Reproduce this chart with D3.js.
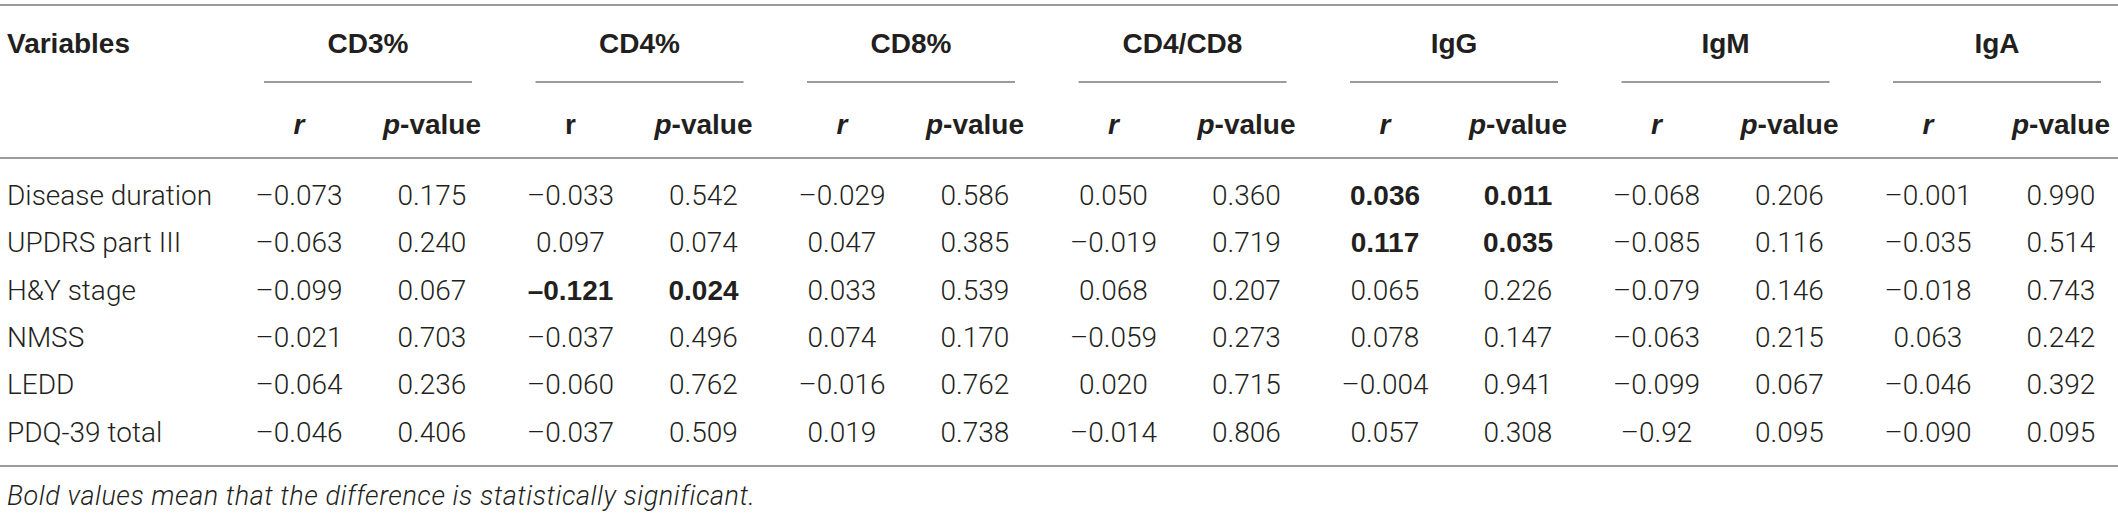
<!DOCTYPE html>
<html>
<head>
<meta charset="utf-8">
<script src="https://cdn.jsdelivr.net/npm/d3@7"></script>
<style>
  html, body { margin: 0; padding: 0; background: #fff; }
  svg { display: block; }
  .body { font-family: Roboto, "Liberation Sans", sans-serif; font-weight: 300; font-size: 28px; fill: #231f20; }
  .bold { font-family: "Liberation Sans", Arial, sans-serif; font-weight: 700; font-size: 28px; fill: #231f20; }
  .rule { stroke: #7a7a7a; stroke-width: 1.4; }
</style>
</head>
<body>
<svg width="2118" height="515"></svg>
<script>
// table content
const groups = ['CD3%', 'CD4%', 'CD8%', 'CD4/CD8', 'IgG', 'IgM', 'IgA'];
const variables = ['Disease duration', 'UPDRS part III', 'H&Y stage', 'NMSS', 'LEDD', 'PDQ-39 total'];

// r per variable (rows) x group (cols)
const rValues = [
  ['–0.073', '–0.033', '–0.029', '0.050', '0.036', '–0.068', '–0.001'],
  ['–0.063', '0.097', '0.047', '–0.019', '0.117', '–0.085', '–0.035'],
  ['–0.099', '–0.121', '0.033', '0.068', '0.065', '–0.079', '–0.018'],
  ['–0.021', '–0.037', '0.074', '–0.059', '0.078', '–0.063', '0.063'],
  ['–0.064', '–0.060', '–0.016', '0.020', '–0.004', '–0.099', '–0.046'],
  ['–0.046', '–0.037', '0.019', '–0.014', '0.057', '–0.92', '–0.090'],
];
const pValues = [
  ['0.175', '0.542', '0.586', '0.360', '0.011', '0.206', '0.990'],
  ['0.240', '0.074', '0.385', '0.719', '0.035', '0.116', '0.514'],
  ['0.067', '0.024', '0.539', '0.207', '0.226', '0.146', '0.743'],
  ['0.703', '0.496', '0.170', '0.273', '0.147', '0.215', '0.242'],
  ['0.236', '0.762', '0.762', '0.715', '0.941', '0.067', '0.392'],
  ['0.406', '0.509', '0.738', '0.806', '0.308', '0.095', '0.095'],
];
// [row, group] shown in bold
const boldCells = [[0, 4], [1, 4], [2, 1]];
const footnote = 'Bold values mean that the difference is statistically significant.';

const W = 2118;
const svg = d3.select('svg');

const x = d3.scalePoint().domain(groups).range([368, 1997]);
const y = d3.scalePoint().domain(variables).range([195, 432]);
const rOff = -69, pOff = 64, half = 104;

const isBold = (i, j) => boldCells.some(c => c[0] === i && c[1] === j);

// horizontal rules
[5, 158, 466].forEach(yy => {
  svg.append('line').attr('class', 'rule')
    .attr('x1', 0).attr('x2', W).attr('y1', yy).attr('y2', yy);
});

svg.selectAll('line.sub')
  .data(groups)
  .enter()
  .append('line')
  .attr('class', 'rule sub')
  .attr('x1', d => x(d) - half)
  .attr('x2', d => x(d) + half)
  .attr('y1', 82).attr('y2', 82);

// header
svg.append('text').attr('class', 'bold')
  .attr('x', 7).attr('y', 43).attr('dy', '0.35em')
  .text('Variables');

svg.selectAll('text.grp')
  .data(groups)
  .enter()
  .append('text')
  .attr('class', 'bold grp')
  .attr('x', d => x(d)).attr('y', 43).attr('dy', '0.35em')
  .attr('text-anchor', 'middle')
  .text(d => d);

// sub header: r / p-value (CD4 "r" is upright in the original)
groups.forEach((g, j) => {
  svg.append('text').attr('class', 'bold')
    .attr('x', x(g) + rOff).attr('y', 124).attr('dy', '0.35em')
    .attr('text-anchor', 'middle')
    .style('font-style', j === 1 ? 'normal' : 'italic')
    .text('r');
  const t = svg.append('text').attr('class', 'bold')
    .attr('x', x(g) + pOff).attr('y', 124).attr('dy', '0.35em')
    .attr('text-anchor', 'middle');
  t.append('tspan').style('font-style', 'italic').text('p');
  t.append('tspan').text('-value');
});

// rows
svg.selectAll('text.var')
  .data(variables)
  .enter()
  .append('text')
  .attr('class', 'body var')
  .attr('x', 7).attr('y', d => y(d)).attr('dy', '0.35em')
  .text(d => d);

const cells = [];
variables.forEach((v, i) => {
  groups.forEach((g, j) => {
    cells.push({ v, g, i, j, kind: 'r', text: rValues[i][j] });
    cells.push({ v, g, i, j, kind: 'p', text: pValues[i][j] });
  });
});

svg.selectAll('text.cell')
  .data(cells)
  .enter()
  .append('text')
  .attr('class', d => (isBold(d.i, d.j) ? 'bold' : 'body') + ' cell')
  .attr('x', d => x(d.g) + (d.kind === 'r' ? rOff : pOff))
  .attr('y', d => y(d.v)).attr('dy', '0.35em')
  .attr('text-anchor', 'middle')
  .text(d => d.text);

// footnote
svg.append('text').attr('class', 'body')
  .attr('x', 7).attr('y', 505)
  .style('font-style', 'italic')
  .style('font-size', '27px')
  .style('letter-spacing', '0.55px')
  .text(footnote);
</script>
</body>
</html>
